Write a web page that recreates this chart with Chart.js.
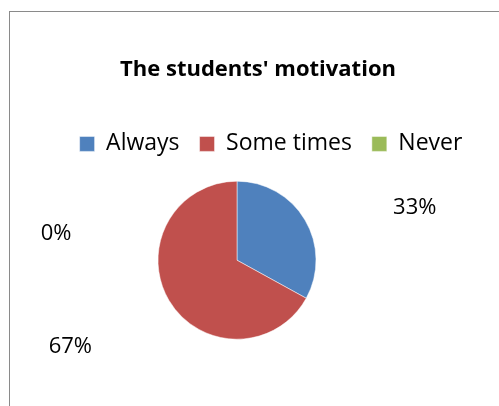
<!DOCTYPE html>
<html>
<head>
<meta charset="utf-8">
<script src="https://cdn.jsdelivr.net/npm/chart.js@4"></script>
<style>
    html, body { margin: 0; padding: 0; background: #fff; overflow: hidden; }
    #wrap { position: relative; width: 499px; height: 406px; }
    #frame {
        position: absolute; left: 9px; top: 11px;
        width: 600px; height: 500px;
        border: 1px solid #8a8a8a; box-sizing: border-box;
    }
    canvas { position: absolute; left: 0; top: 0; }
</style>
</head>
<body>
<div id="wrap">
    <div id="frame"></div>
    <canvas id="motivationChart" width="499" height="406"></canvas>
</div>
<script>
// chart data
const categories = ['Always', 'Some times', 'Never'];
const percentages = [33, 67, 0];
const sliceColors = ['#4f81bd', '#c0504d', '#9bbb59'];

// where each percent label sits, relative to the pie centre (in radii)
const labelOffsets = [[2.25, -0.66], [-2.11, 1.09], [-2.29, -0.34]];

const fontFamily = "'Open Sans', 'DejaVu Sans', sans-serif";

// pie sits left of the centred title, legend a bit to the right
const shiftBoxes = {
    id: 'shiftBoxes',
    afterLayout(chart) {
        chart.chartArea.right -= 42;
        chart.legend.left += 13;
        chart.legend.right += 13;
    }
};

const percentLabels = {
    id: 'percentLabels',
    afterDatasetsDraw(chart) {
        const ctx = chart.ctx;
        const arcs = chart.getDatasetMeta(0).data;
        if (!arcs.length) return;
        const cx = arcs[0].x;
        const cy = arcs[0].y;
        const r = arcs[0].outerRadius;
        ctx.save();
        ctx.font = '22px ' + fontFamily;
        ctx.fillStyle = '#000';
        ctx.textAlign = 'center';
        ctx.textBaseline = 'middle';
        percentages.forEach((v, i) => {
            const off = labelOffsets[i];
            ctx.fillText(v + '%', cx + off[0] * r, cy + off[1] * r);
        });
        ctx.restore();
    }
};

new Chart(document.getElementById('motivationChart'), {
    type: 'pie',
    data: {
        labels: categories,
        datasets: [{
            data: percentages,
            backgroundColor: sliceColors,
            borderColor: '#ffffff',
            borderWidth: 0.5,
            radius: 79
        }]
    },
    options: {
        responsive: false,
        animation: false,
        layout: {
            padding: { left: 17, right: 0, top: 0, bottom: 51 }
        },
        plugins: {
            title: {
                display: true,
                text: "The students' motivation",
                color: '#000',
                font: { family: fontFamily, size: 22, weight: 'bold' },
                padding: { top: 57, bottom: 29 }
            },
            legend: {
                position: 'top',
                labels: {
                    color: '#000',
                    font: { family: fontFamily, size: 23 },
                    boxWidth: 15,
                    boxHeight: 15,
                    padding: 20
                }
            },
            tooltip: { enabled: false }
        }
    },
    plugins: [shiftBoxes, percentLabels]
});
</script>
</body>
</html>
